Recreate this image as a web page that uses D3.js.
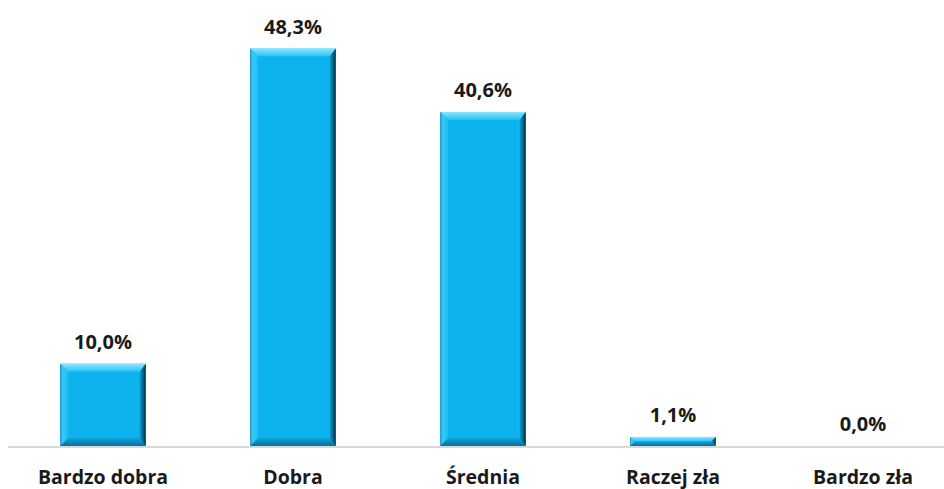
<!DOCTYPE html>
<html lang="pl">
<head>
<meta charset="UTF-8">
<title>Ocena</title>
<script src="https://d3js.org/d3.v7.min.js"></script>
<style>
  body { margin: 0; background: #fff; }
  text { font-family: "Open Sans", Lato, sans-serif; font-weight: bold; fill: #1a1a1a; }
</style>
</head>
<body>
<div id="chart"></div>
<script>
const categories = ["Bardzo dobra", "Dobra", "Średnia", "Raczej zła", "Bardzo zła"];
const values = [10.0, 48.3, 40.6, 1.1, 0.0];
const valueLabels = ["10,0%", "48,3%", "40,6%", "1,1%", "0,0%"];

const width = 944, height = 489;
const baseY = 446;

const svg = d3.select("#chart").append("svg")
    .attr("width", width)
    .attr("height", height);

const x = d3.scaleBand()
    .domain(categories)
    .range([8, 958])
    .paddingInner(0.55)
    .paddingOuter(0.275);

const y = d3.scaleLinear()
    .domain([0, 54.2])
    .range([baseY, 0]);

const defs = svg.append("defs");
const topGrad = defs.append("linearGradient").attr("id", "topG")
    .attr("x1", 0).attr("y1", 0).attr("x2", 0).attr("y2", 1);
topGrad.append("stop").attr("offset", "0%").attr("stop-color", "#8fe6ff");
topGrad.append("stop").attr("offset", "100%").attr("stop-color", "#22c2f6");

const rightGrad = defs.append("linearGradient").attr("id", "rightG")
    .attr("x1", 0).attr("y1", 0).attr("x2", 1).attr("y2", 0);
rightGrad.append("stop").attr("offset", "0%").attr("stop-color", "#0b9fd6");
rightGrad.append("stop").attr("offset", "100%").attr("stop-color", "#062f44");

const botGrad = defs.append("linearGradient").attr("id", "botG")
    .attr("x1", 0).attr("y1", 0).attr("x2", 0).attr("y2", 1);
botGrad.append("stop").attr("offset", "0%").attr("stop-color", "#0aa6e0");
botGrad.append("stop").attr("offset", "100%").attr("stop-color", "#0b6f98");

const leftGrad = defs.append("linearGradient").attr("id", "leftG")
    .attr("x1", 0).attr("y1", 0).attr("x2", 1).attr("y2", 0);
leftGrad.append("stop").attr("offset", "0%").attr("stop-color", "#1890c4");
leftGrad.append("stop").attr("offset", "30%").attr("stop-color", "#3ccaf8");
leftGrad.append("stop").attr("offset", "100%").attr("stop-color", "#1bbcf2");

// axis line
svg.append("line")
    .attr("x1", 8).attr("x2", width)
    .attr("y1", baseY + 1).attr("y2", baseY + 1)
    .attr("stroke", "#d9d9d9")
    .attr("stroke-width", 2);

const data = categories.map((c, i) => ({ cat: c, v: values[i], label: valueLabels[i] }));

const bars = svg.selectAll(".bar")
    .data(data.filter(d => d.v > 0))
    .enter().append("g").attr("class", "bar");

bars.each(function(d) {
    const g = d3.select(this);
    const x0 = x(d.cat), x1 = x0 + x.bandwidth();
    const y0 = y(d.v), y1 = y(0);
    const h = y1 - y0;
    const b = Math.min(8, h / 2);
    const br = Math.min(6, h / 2);
    g.append("rect")
        .attr("x", x0).attr("y", y0)
        .attr("width", x1 - x0).attr("height", h)
        .attr("fill", "#0cb3ef");
    // top bevel
    g.append("polygon")
        .attr("points", [[x0, y0], [x1, y0], [x1 - br, y0 + b], [x0 + b, y0 + b]].join(" "))
        .attr("fill", "url(#topG)");
    // left bevel
    g.append("polygon")
        .attr("points", [[x0, y0], [x0 + b, y0 + b], [x0 + b, y1 - b], [x0, y1]].join(" "))
        .attr("fill", "url(#leftG)");
    // bottom bevel
    g.append("polygon")
        .attr("points", [[x0, y1], [x0 + b, y1 - b], [x1 - br, y1 - b], [x1, y1]].join(" "))
        .attr("fill", "url(#botG)");
    // right bevel
    g.append("polygon")
        .attr("points", [[x1, y0], [x1 - br, y0 + b], [x1 - br, y1 - b], [x1, y1]].join(" "))
        .attr("fill", "url(#rightG)");
});

svg.selectAll(".val")
    .data(data)
    .enter().append("text")
    .attr("class", "val")
    .attr("x", d => x(d.cat) + x.bandwidth() / 2)
    .attr("y", d => y(d.v) - 15)
    .attr("text-anchor", "middle")
    .attr("font-size", 20)
    .text(d => d.label);

svg.selectAll(".cat")
    .data(categories)
    .enter().append("text")
    .attr("class", "cat")
    .attr("x", d => x(d) + x.bandwidth() / 2)
    .attr("y", 484)
    .attr("text-anchor", "middle")
    .attr("font-size", 19.5)
    .text(d => d);
</script>
</body>
</html>
